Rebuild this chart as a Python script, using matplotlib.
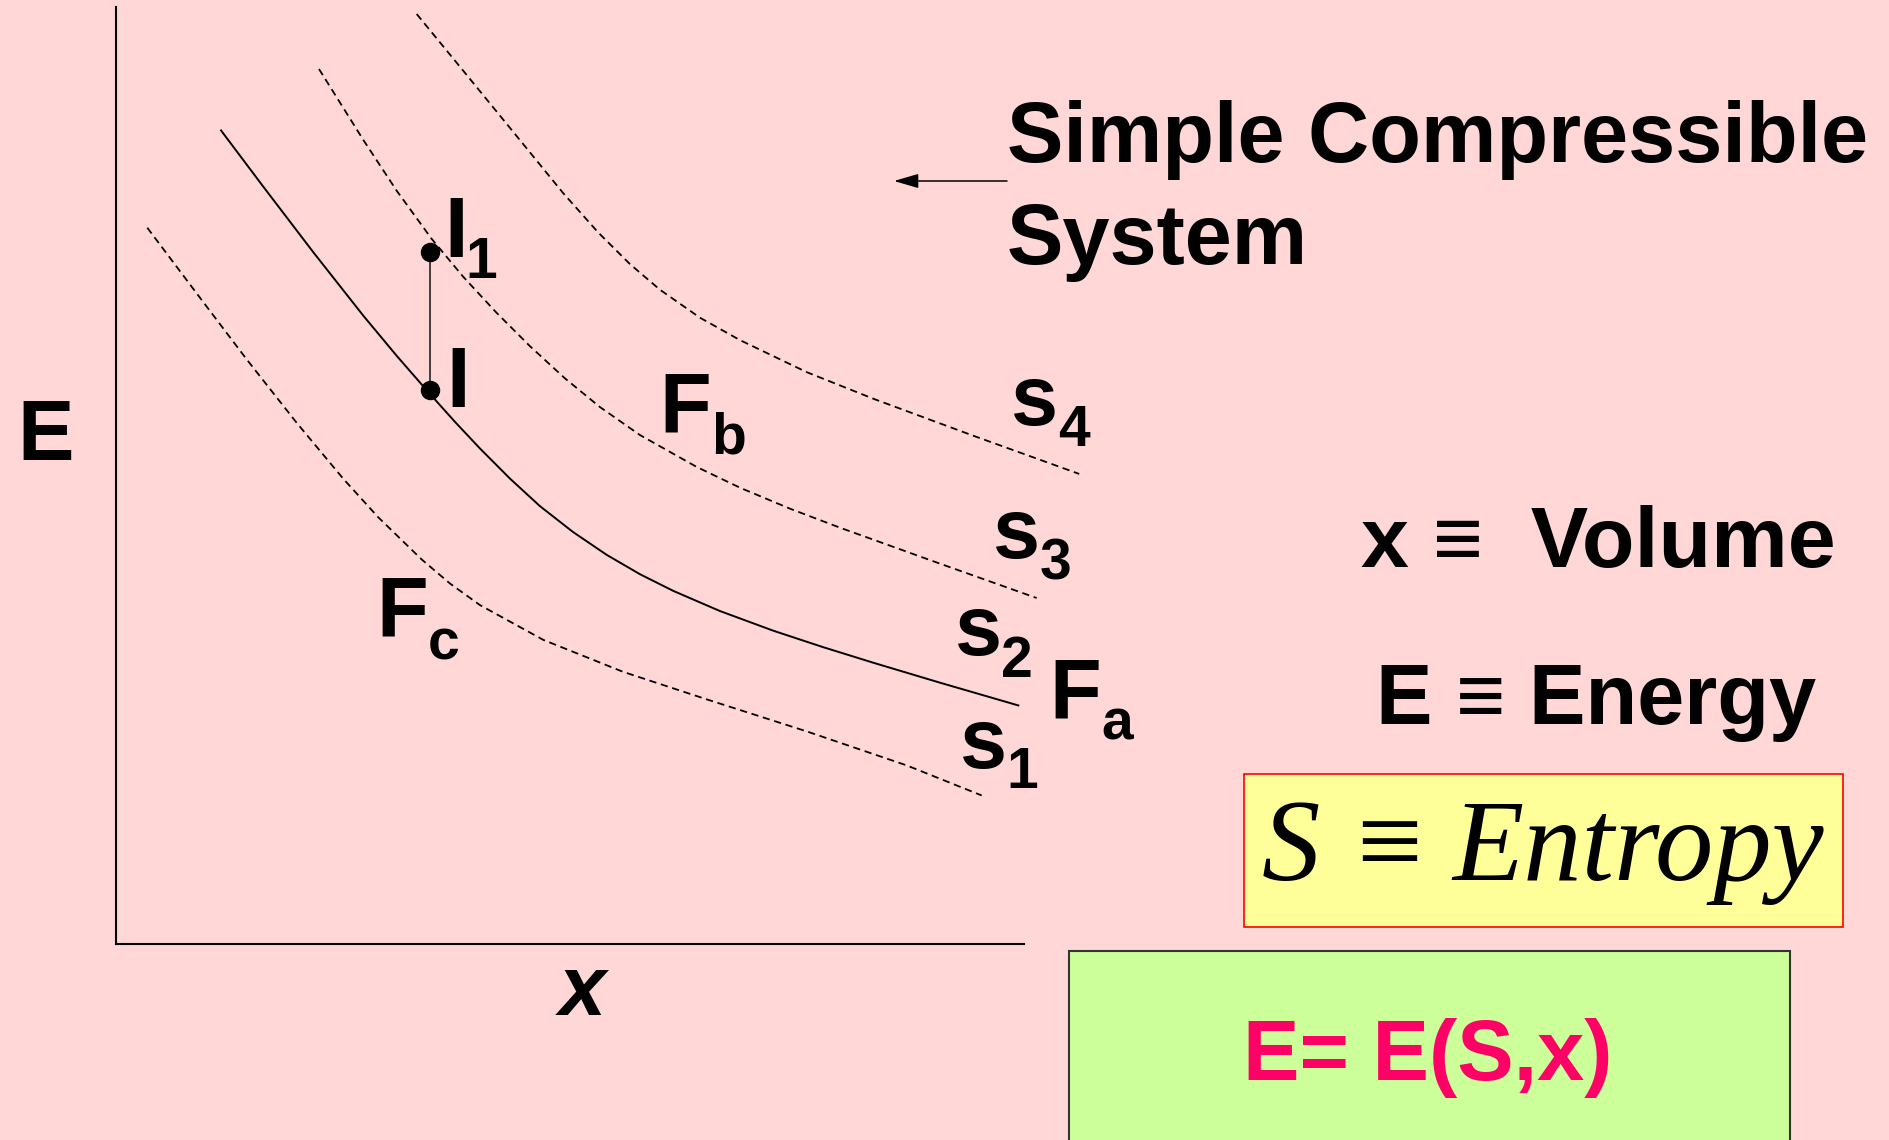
import matplotlib
matplotlib.use("Agg")
import matplotlib.pyplot as plt
from matplotlib.patches import Rectangle

# ---------------- data (arbitrary units: x = volume, E = energy) ----------------
s1_x = [0.348, 0.892, 1.443, 1.994, 2.507, 2.892, 3.370, 3.682, 4.013, 4.710, 5.591, 6.510, 7.611, 8.712, 9.538]
s1_E = [7.643, 6.942, 6.237, 5.559, 4.962, 4.551, 4.101, 3.844, 3.613, 3.242, 2.900, 2.607, 2.265, 1.902, 1.581]

s2_x = [1.160, 1.626, 2.176, 2.727, 3.098, 3.462, 3.737, 4.013, 4.343, 4.673, 5.037,
        5.408, 5.775, 6.142, 6.656, 7.243, 7.790, 8.345, 9.079, 9.942]
s2_E = [8.682, 8.081, 7.382, 6.704, 6.272, 5.867, 5.570, 5.285, 4.964, 4.670, 4.394,
        4.150, 3.943, 3.765, 3.550, 3.340, 3.165, 2.998, 2.785, 2.542]

s3_x = [2.239, 2.727, 3.095, 3.481, 3.829, 4.189, 4.563, 4.949, 5.334, 5.775, 6.399,
        6.876, 7.427, 7.978, 9.079, 10.144]
s3_E = [9.338, 8.581, 8.038, 7.523, 7.118, 6.741, 6.378, 6.034, 5.728, 5.429, 5.089,
        4.867, 4.643, 4.440, 4.056, 3.689]

s4_x = [3.315, 3.829, 4.379, 4.930, 5.312, 5.665, 5.995, 6.436, 6.876, 7.611, 8.345, 9.446, 10.613]
s4_E = [9.925, 9.318, 8.666, 8.011, 7.595, 7.254, 6.981, 6.682, 6.443, 6.101, 5.817, 5.422, 5.014]

state_x = [3.462, 3.462]          # I1 (top) and I (bottom)
state_E = [7.381, 5.910]

# ---------------- figure ----------------
W, H = 1890, 1140
BG = "#FFD7D7"
fig = plt.figure(figsize=(W / 100, H / 100), dpi=100, facecolor=BG)

def fx(x):
    return x / W

def fy(y):
    return 1 - y / H

L, R, T, B = 115.7, 1023.6, 7.0, 943.5
ax = fig.add_axes([fx(L), fy(B), (R - L) / W, (B - T) / H])
ax.set_facecolor("none")
ax.set_xlim(0, 10)
ax.set_ylim(0, 10)
for side in ("top", "right"):
    ax.spines[side].set_visible(False)
for side in ("left", "bottom"):
    ax.spines[side].set_linewidth(1.5)
    ax.spines[side].set_color("black")
ax.set_xticks([])
ax.set_yticks([])

dash = (0, (4.0, 2.6))
ax.plot(s1_x, s1_E, color="black", lw=1.3, ls=dash, clip_on=False)
ax.plot(s3_x, s3_E, color="black", lw=1.3, ls=dash, clip_on=False)
ax.plot(s4_x, s4_E, color="black", lw=1.3, ls=dash, clip_on=False)
ax.plot(s2_x, s2_E, color="black", lw=1.4, clip_on=False)
ax.plot(state_x, state_E, color="#333333", lw=1.3, clip_on=False)
ax.plot(state_x, state_E, "o", color="black", ms=13, clip_on=False)

SANS = ["Liberation Sans", "DejaVu Sans"]
MAIN = 61
SUB = 41

def txt(x, y, s, size=MAIN, color="black", **kw):
    kw.setdefault("family", SANS)
    kw.setdefault("weight", "bold")
    fig.text(fx(x), fy(y), s, fontsize=size, color=color,
             ha="left", va="baseline", **kw)

# axis labels
txt(17, 460, "E")
txt(559, 1015, "x", style="italic")

# curve labels with subscripts
txt(1010, 425, "s"); txt(1058, 446, "4", size=SUB)
txt(992, 558, "s"); txt(1040, 579, "3", size=SUB)
txt(954, 655, "s"); txt(1001, 677, "2", size=SUB)
txt(959, 768, "s"); txt(1006, 788, "1", size=SUB)
txt(1049, 718, "F"); txt(1101, 740, "a", size=SUB)
txt(659, 433, "F"); txt(711, 453, "b", size=SUB)
txt(376, 637, "F"); txt(428, 659, "c", size=SUB)
txt(444, 257, "I"); txt(465, 278, "1", size=SUB)
txt(446, 407, "I")

# title block and arrow
txt(1007, 162, "Simple Compressible")
txt(1007, 264, "System")
fig.add_artist(plt.Annotation(
    "", xy=(fx(894), fy(181)), xytext=(fx(1007), fy(181)),
    xycoords="figure fraction", textcoords="figure fraction",
    arrowprops=dict(arrowstyle="-|>,head_length=0.75,head_width=0.22",
                    mutation_scale=20, color="black", lw=1.1,
                    shrinkA=0, shrinkB=0)))

# definitions
txt(1361, 567, "x \u2261  Volume", size=62)
txt(1376, 724, "E \u2261 Energy")

# yellow box
fig.add_artist(Rectangle((fx(1244), fy(927)), (1843 - 1244) / W, (927 - 774) / H,
                         transform=fig.transFigure, facecolor="#FFFF99",
                         edgecolor="#FF0000", lw=1.2, zorder=1))
SERIF = ["Liberation Serif", "DejaVu Serif"]
fig.text(fx(1262), fy(880), "S", fontsize=84, color="black",
         family=SERIF, style="italic", ha="left", va="baseline", zorder=3)
fig.text(fx(1356), fy(880), "\u2261", fontsize=84, color="black",
         family=SERIF, ha="left", va="baseline", zorder=3)
fig.text(fx(1452), fy(880), "Entropy", fontsize=84, color="black",
         family=SERIF, style="italic", ha="left", va="baseline", zorder=3)

# green box
fig.add_artist(Rectangle((fx(1069), fy(1160)), (1790 - 1069) / W, (1160 - 951) / H,
                         transform=fig.transFigure, facecolor="#CCFF99",
                         edgecolor="#333333", lw=1.5, zorder=1))
txt(1243, 1080, "E= E(S,x)", color="#FF0066")

fig.savefig("out.png", dpi=100, facecolor=BG)
